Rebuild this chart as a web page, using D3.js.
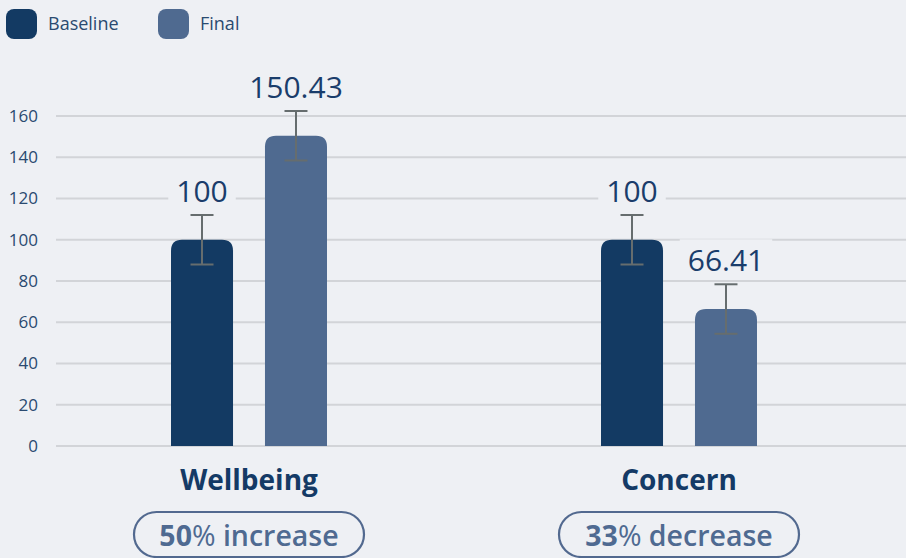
<!DOCTYPE html>
<html><head><meta charset="utf-8">
<script src="https://cdn.jsdelivr.net/npm/d3@7"></script>
<style>
html,body{margin:0;padding:0;background:#eef0f4;}
svg{display:block;font-family:"Open Sans","Noto Sans",sans-serif;}
</style></head><body>
<svg id="c" width="906" height="558"></svg>
<script>
const categories = ["Wellbeing", "Concern"];
const seriesNames = ["Baseline", "Final"];
const baselineValues = [100, 100];
const finalValues = [150.43, 66.41];
const baselineErrors = [12, 12];
const finalErrors = [12, 12];
const changeNumbers = ["50", "33"];
const changeWords = [" increase", " decrease"];
const yTicks = [0, 20, 40, 60, 80, 100, 120, 140, 160];
const colors = ["#133a63", "#4f6a90"];

const svg = d3.select("#c");
const W = 906, H = 558;
svg.append("rect").attr("width", W).attr("height", H).attr("fill", "#eef0f4");

const y = d3.scaleLinear().domain([0, 160]).range([446, 116]);
const x0 = d3.scaleBand().domain(categories).range([34, 894]).paddingInner(0).paddingOuter(0);
const x1 = d3.scaleBand().domain(seriesNames).range([0, 156]).paddingInner(0.34).paddingOuter(0);

// gridlines + axis
const yAxis = d3.axisLeft(y).tickValues(yTicks).tickSize(0).tickPadding(0);
const ag = svg.append("g").attr("transform", "translate(38,0)").call(yAxis);
ag.select(".domain").remove();
ag.selectAll("text").attr("font-size", 17).attr("fill", "#2a4a70").attr("dy", "0.32em")
  .attr("font-family", "'Open Sans','Noto Sans',sans-serif");
svg.append("g").selectAll("line").data(yTicks).join("line")
  .attr("x1", 56).attr("x2", W).attr("y1", d => y(d)).attr("y2", d => y(d))
  .attr("stroke", "#d2d4d8").attr("stroke-width", 2);

const data = categories.map((c, i) => ({
  cat: c,
  items: [
    {s: seriesNames[0], v: baselineValues[i], e: baselineErrors[i]},
    {s: seriesNames[1], v: finalValues[i], e: finalErrors[i]}
  ]
}));

function topRounded(x, yTop, w, h, r) {
  r = Math.min(r, h, w / 2);
  return `M${x},${yTop + h}V${yTop + r}Q${x},${yTop} ${x + r},${yTop}H${x + w - r}Q${x + w},${yTop} ${x + w},${yTop + r}V${yTop + h}Z`;
}

const groups = svg.append("g").selectAll("g").data(data).join("g")
  .attr("transform", d => `translate(${x0(d.cat) + x0.bandwidth() / 2 - 78},0)`);

const bw = x1.bandwidth();
groups.selectAll("path.bar").data(d => d.items).join("path").attr("class", "bar")
  .attr("d", d => topRounded(x1(d.s), y(d.v), bw, y(0) - y(d.v), 11))
  .attr("fill", (d, i) => colors[i]);

// error bars
const eb = groups.selectAll("g.err").data(d => d.items).join("g").attr("class", "err")
  .attr("transform", d => `translate(${x1(d.s) + bw / 2},0)`);
eb.append("line").attr("y1", d => y(d.v + d.e)).attr("y2", d => y(d.v - d.e));
eb.append("line").attr("x1", -11.5).attr("x2", 11.5).attr("y1", d => y(d.v + d.e)).attr("y2", d => y(d.v + d.e));
eb.append("line").attr("x1", -11.5).attr("x2", 11.5).attr("y1", d => y(d.v - d.e)).attr("y2", d => y(d.v - d.e));
eb.selectAll("line").attr("stroke", "#666d6e").attr("stroke-width", 2);

// value labels with background
const lab = groups.selectAll("g.lab").data(d => d.items).join("g").attr("class", "lab")
  .attr("transform", d => `translate(${x1(d.s) + bw / 2},${y(d.v + d.e) - 13})`);
lab.append("rect").attr("fill", "#eef0f4");
lab.append("text").attr("text-anchor", "middle").attr("font-size", 30).attr("fill", "#1a3d6b")
  .text(d => d3.format("")(d.v));
lab.each(function() {
  const t = d3.select(this).select("text").node().getBBox();
  d3.select(this).select("rect").attr("x", t.x - 8).attr("y", t.y).attr("width", t.width + 16).attr("height", t.height - 4);
});

// category labels
groups.append("text").attr("x", 78).attr("y", 490).attr("text-anchor", "middle")
  .attr("font-size", 28).attr("font-weight", 700).attr("fill", "#143a66").text(d => d.cat);

// pills
const pill = groups.append("g");
const pt = pill.append("text").attr("x", 78).attr("y", 546).attr("text-anchor", "middle")
  .attr("font-size", 28.5).attr("font-weight", 600).attr("fill", "#4f6a91");
pt.append("tspan").attr("font-weight", 700).text((d, i) => changeNumbers[i]);
pt.append("tspan").attr("font-weight", 400).text("%");
pt.append("tspan").text((d, i) => changeWords[i]);
pill.insert("rect", "text").attr("x", (d, i) => i === 0 ? 78 - 115 : 78 - 120).attr("y", 512)
  .attr("width", (d, i) => i === 0 ? 230 : 240)
  .attr("height", 45).attr("rx", 22.5).attr("fill", "none").attr("stroke", "#52698f").attr("stroke-width", 2.2);

// legend
const leg = svg.append("g").selectAll("g").data(seriesNames).join("g")
  .attr("transform", (d, i) => `translate(${6 + i * 152},9)`);
leg.append("rect").attr("width", 31).attr("height", 30).attr("rx", 8).attr("fill", (d, i) => colors[i]);
leg.append("text").attr("x", 42).attr("y", 21).attr("font-size", 18).attr("fill", "#2a4a70").text(d => d);
</script>
</body></html>
